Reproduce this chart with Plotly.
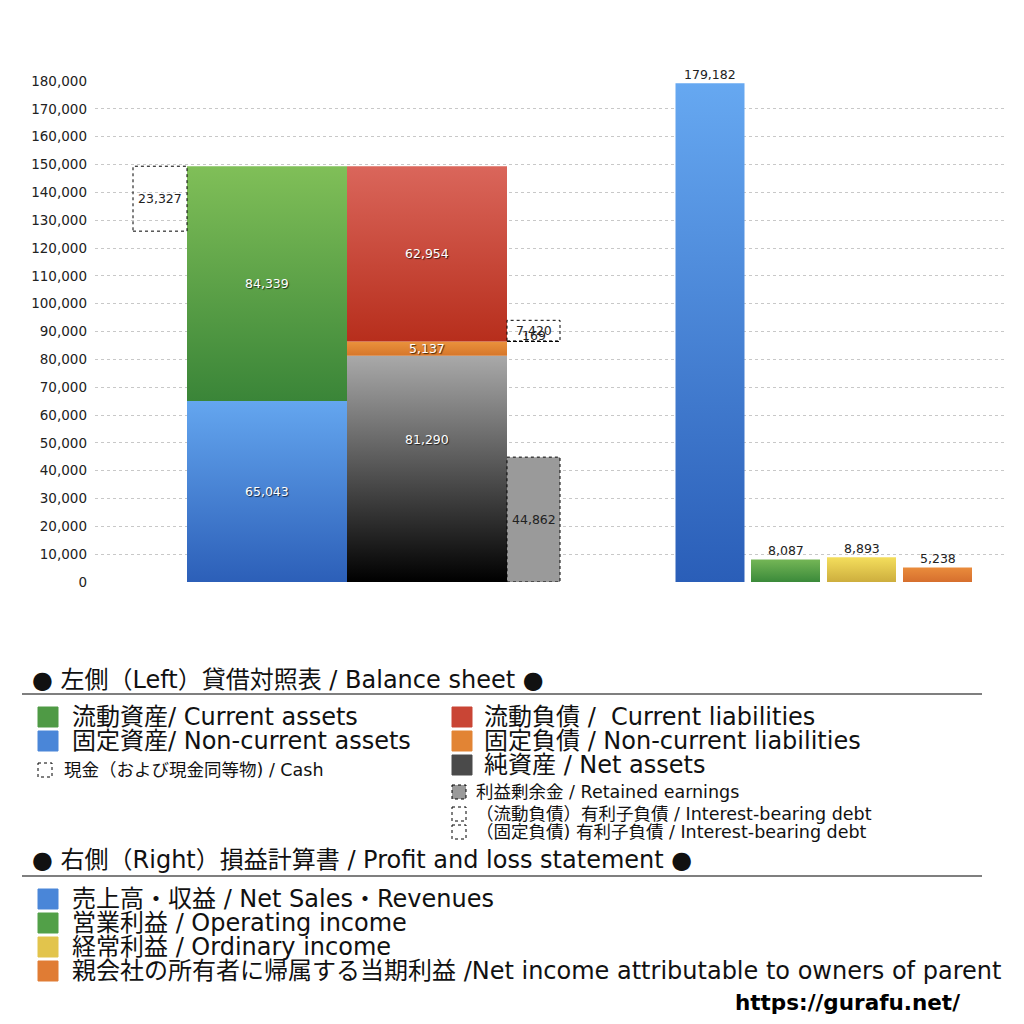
import plotly.graph_objects as go

# ---- data ----
asset_names = ["固定資産", "流動資産"]
asset_values = [65043, 84339]
liab_names = ["純資産", "固定負債", "流動負債"]
liab_values = [81290, 5137, 62954]
cash_value = 23327
retained_value = 44862
debt_names = ["(固定負債) 有利子負債", "(流動負債) 有利子負債"]
debt_values = [169, 7420]
pl_names = ["売上高・収益", "営業利益", "経常利益", "当期利益"]
pl_values = [179182, 8087, 8893, 5238]
ytick_vals = list(range(0, 180001, 10000))

# ---- styles ----
asset_grads = [("#2c5fb8", "#64a6ef"), ("#3a8538", "#80bf58")]
liab_grads = [("#000000", "#a9a9a9"), ("#d6762a", "#ea923c"), ("#b72e1c", "#da665b")]
pl_grads = [("#2a5eb8", "#66a8f1"), ("#3b8a3a", "#74b656"),
            ("#cdae3e", "#f4de5c"), ("#d66f2e", "#ea8c3c")]
FONT = "DejaVu Sans, Noto Sans CJK JP"

# page offset (body margin) and plot area in screenshot pixels
OFF = 8
L, R, T, B = 95, 1005, 81, 582


def paper(x, y):
    return (x - L) / (R - L), (B - y) / (B - T)


fig = go.Figure()


def box(xc, w, base, val, grad=None, fill=None, dotted=False):
    x0, x1 = xc - w / 2, xc + w / 2
    top = base + val
    kw = dict(x=[x0, x1, x1, x0, x0], y=[base, base, top, top, base],
              mode="lines", showlegend=False, hoverinfo="skip")
    if dotted:
        kw["line"] = dict(color="black", width=1, dash="dot")
    else:
        kw["line"] = dict(width=0)
    if grad is not None:
        kw["fill"] = "toself"
        kw["fillcolor"] = grad[1]
        kw["fillgradient"] = dict(type="vertical", start=base, stop=top,
                                  colorscale=[[0, grad[0]], [1, grad[1]]])
    elif fill is not None:
        kw["fill"] = "toself"
        kw["fillcolor"] = fill
    fig.add_trace(go.Scatter(**kw))
    return (base + top) / 2


def label(xc, y, text, white=True, yanchor="middle", yshift=0):
    fig.add_annotation(x=xc, y=y, text=text, showarrow=False, yanchor=yanchor,
                       yshift=yshift,
                       font=dict(family=FONT, size=12.5,
                                 color="white" if white else "#222",
                                 shadow="1px 1px 1px rgba(0,0,0,0.7)" if white else "none"))


# assets column
base = 0
for v, g in zip(asset_values, asset_grads):
    mid = box(267, 160, base, v, grad=g)
    label(267, mid, f"{v:,}")
    base += v
total_assets = base

# cash box, hanging from the top of total assets
mid = box(160, 54, total_assets - cash_value, cash_value, dotted=True)
label(160, mid, f"{cash_value:,}", white=False)

# liabilities + net assets column
base = 0
for i, (v, g) in enumerate(zip(liab_values, liab_grads)):
    mid = box(427, 160, base, v, grad=g)
    label(427, mid, f"{v:,}", yshift=29 if i == 0 else 0)
    base += v

# retained earnings
mid = box(533.5, 53, 0, retained_value, fill="#9a9a9a", dotted=True)
label(533.5, mid, f"{retained_value:,}", white=False)

# interest-bearing debt boxes
base = liab_values[0] + liab_values[1]
for v in debt_values:
    mid = box(533.5, 53, base, v, dotted=True)
    label(533.5, mid, f"{v:,}", white=False, yshift=6 if v < 1000 else 0)
    base += v

# profit and loss bars
pl_x = [710, 785.5, 861.5, 937.5]
for xc, v, g in zip(pl_x, pl_values, pl_grads):
    box(xc, 69, 0, v, grad=g)
    label(xc, v, f"{v:,}", white=False, yanchor="bottom", yshift=-1)

# ---- legend drawn under the chart ----
def text(x, y, s, size, bold=False, color="#111"):
    px_, py_ = paper(x, y)
    fig.add_annotation(x=px_, y=py_, xref="paper", yref="paper", text=s,
                       showarrow=False, xanchor="left", yanchor="middle",
                       font=dict(family=FONT, size=size, color=color,
                                 weight="bold" if bold else "normal"))


def swatch(x, y, size, color=None, dotted=False):
    x0, y0 = paper(x, y - size / 2)
    x1, y1 = paper(x + size, y + size / 2)
    fig.add_shape(type="rect", xref="paper", yref="paper", x0=x0, x1=x1, y0=y0, y1=y1,
                  fillcolor=color if color else "rgba(0,0,0,0)",
                  line=dict(color="black" if dotted else color, width=1,
                            dash="dot" if dotted else "solid"))


def hline(y):
    x0, y0 = paper(22, y)
    x1, _ = paper(982, y)
    fig.add_shape(type="line", xref="paper", yref="paper", x0=x0, x1=x1, y0=y0, y1=y0,
                  line=dict(color="#555", width=1.5))


BIG, SMALL = 24, 17.5

text(30, 680, "● 左側（Left）貸借対照表 / Balance sheet ●", BIG)
hline(694)
swatch(38, 717, 20, "#4f9a45")
text(70, 717, "流動資産/ Current assets", BIG)
swatch(38, 741, 20, "#4a86d8")
text(70, 741, "固定資産/ Non-current assets", BIG)
swatch(38, 770, 14, dotted=True)
text(62, 770, "現金（および現金同等物) / Cash", SMALL)

swatch(452, 717, 20, "#c94535")
text(482, 717, "流動負債 /  Current liabilities", BIG)
swatch(452, 741, 20, "#e28434")
text(482, 741, "固定負債 / Non-current liabilities", BIG)
swatch(452, 765, 20, "#4a4a4a")
text(482, 765, "純資産 / Net assets", BIG)
swatch(452, 792, 14, "#9a9a9a", dotted=True)
text(474, 792, "利益剰余金 / Retained earnings", SMALL)
swatch(452, 814, 14, dotted=True)
text(474, 814, "（流動負債）有利子負債 / Interest-bearing debt", SMALL)
swatch(452, 832, 14, dotted=True)
text(474, 832, "（固定負債) 有利子負債 / Interest-bearing debt", SMALL)

text(30, 860, "● 右側（Right）損益計算書 / Profit and loss statement ●", BIG)
hline(876)
pl_legend = ["売上高・収益 / Net Sales・Revenues", "営業利益 / Operating income",
             "経常利益 / Ordinary income",
             "親会社の所有者に帰属する当期利益 /Net income attributable to owners of parent"]
pl_swatch = ["#4a86d8", "#52a048", "#e2c44c", "#e07c34"]
for i, (s, c) in enumerate(zip(pl_legend, pl_swatch)):
    swatch(38, 899 + 24 * i, 20, c)
    text(70, 899 + 24 * i, s, BIG)

text(733, 1002, "https://gurafu.net/", 21.5, bold=True, color="#000")

fig.update_layout(
    width=1024, height=1024,
    margin=dict(l=L - OFF, r=1024 - R + OFF, t=T - OFF, b=1024 - B + OFF, pad=0),
    plot_bgcolor="white", paper_bgcolor="white",
    font=dict(family=FONT),
    xaxis=dict(range=[L, R], visible=False, fixedrange=True),
    yaxis=dict(range=[0, 180000], tickvals=ytick_vals, tickformat=",",
               showgrid=True, gridcolor="#c8c8c8", griddash="dot", gridwidth=1,
               zeroline=False, showline=False, ticks="", ticklabelstandoff=7,
               tickfont=dict(family=FONT, size=13.5, color="#222")),
)

fig.write_html("out.html")
